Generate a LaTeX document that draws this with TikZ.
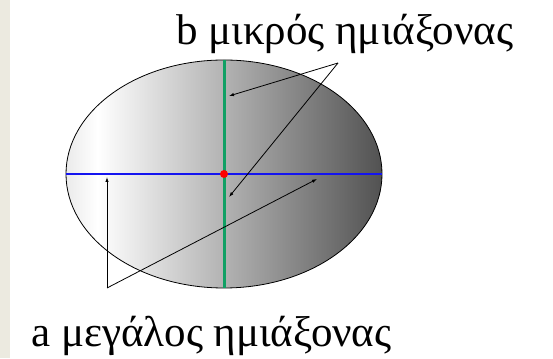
\documentclass[tikz,border=0pt]{standalone}
\usepackage{fontspec}
\setmainfont{Liberation Serif}
\usetikzlibrary{arrows.meta,shapes.geometric}
\definecolor{paper}{HTML}{ECEAE0}
\definecolor{minoraxis}{HTML}{10A064}
\definecolor{majoraxis}{HTML}{1414F0}
\pgfdeclarehorizontalshading{eggshade}{100bp}{color(0bp)=(black!8); color(25bp)=(black!8); color(30bp)=(white); color(50bp)=(black!30); color(75bp)=(black!68); color(100bp)=(black!68)}
\tikzset{
  every node/.style={inner sep=0pt},
  caption/.style={font=\rmfamily\fontsize{43}{50}\selectfont,anchor=base west},
  pointer/.style={-{Latex[length=5pt,width=3.4pt]},line width=.8pt,draw=black},
  egg/.style={ellipse,draw=black,line width=.8pt,minimum width=316pt,minimum height=228pt,shading=eggshade},
  minorline/.style={draw=minoraxis,line width=3pt},
  majorline/.style={draw=majoraxis,line width=2pt},
}

\begin{document}
\begin{tikzpicture}[x=1pt,y=1pt]
\path[use as bounding box] (0,0) rectangle (553,358);
\fill[white] (0,0) rectangle (553,358);
\fill[paper] (0,0) rectangle (9.5,358);
% the ellipse with both semi-axes
\node[egg] (body) at (224,184) {};
\draw[majorline] (body.west) -- (body.east);
\draw[minorline] (body.north) -- (body.south);
\node[circle,fill=red,minimum size=8pt] (centre) at (body.center) {};
% captions and their pointers
\node[caption] (bname) at (176,313) {b μικρός ημιάξονας};
\node[caption] (aname) at (31,11) {a μεγάλος ημιάξονας};
\coordinate (bapex) at (338,295);
\coordinate (bhigh) at (229,262);
\coordinate (blow) at (229,161);
\coordinate (aapex) at (107,70);
\coordinate (aleft) at (107,181);
\coordinate (aright) at (317,179);
\draw[pointer] (bapex) -- (bhigh);
\draw[pointer] (bapex) -- (blow);
\draw[pointer] (aapex) -- (aleft);
\draw[pointer] (aapex) -- (aright);
\end{tikzpicture}
\end{document}
